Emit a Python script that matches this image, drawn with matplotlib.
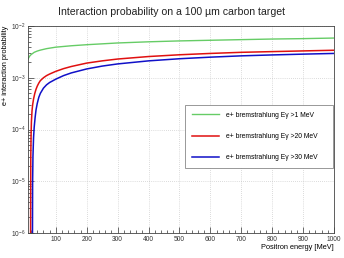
import matplotlib
matplotlib.use("Agg")
import matplotlib.pyplot as plt
from matplotlib.ticker import MultipleLocator, LogLocator, NullFormatter

plt.rcParams['font.family'] = ['Liberation Sans', 'DejaVu Sans']

# positron energy [MeV] and interaction probability
e_green = [10, 15, 20, 30, 40, 50, 70, 100, 150, 200, 300, 400, 500, 600,
           700, 800, 900, 1000]
p_green = [2.3e-3, 2.6e-3, 2.8e-3, 3.1e-3, 3.28e-3, 3.42e-3, 3.65e-3,
           3.9e-3, 4.15e-3, 4.35e-3, 4.7e-3, 4.95e-3, 5.15e-3, 5.3e-3,
           5.45e-3, 5.6e-3, 5.7e-3, 5.85e-3]

e_red = [18, 19, 20, 21, 23, 25, 28, 32, 36, 40, 45, 50, 60, 70, 80, 100,
         125, 150, 200, 250, 300, 400, 500, 600, 700, 800, 900, 1000]
p_red = [1e-7, 3e-5, 8e-5, 1.4e-4, 2.3e-4, 3.0e-4, 3.9e-4, 5.0e-4, 6.0e-4,
         6.9e-4, 7.9e-4, 8.8e-4, 1.0e-3, 1.1e-3, 1.18e-3, 1.33e-3, 1.5e-3,
         1.65e-3, 1.92e-3, 2.12e-3, 2.3e-3, 2.57e-3, 2.78e-3, 2.95e-3,
         3.1e-3, 3.2e-3, 3.3e-3, 3.4e-3]

e_blue = [24, 25, 26, 28, 30, 33, 36, 40, 45, 50, 60, 70, 80, 100, 125,
          150, 200, 250, 300, 400, 500, 600, 700, 800, 900, 1000]
p_blue = [1e-7, 1e-5, 3e-5, 7e-5, 1.1e-4, 1.7e-4, 2.4e-4, 3.2e-4, 4.2e-4,
          5.0e-4, 6.3e-4, 7.3e-4, 8.1e-4, 9.4e-4, 1.1e-3, 1.24e-3, 1.48e-3,
          1.68e-3, 1.85e-3, 2.12e-3, 2.33e-3, 2.5e-3, 2.65e-3, 2.76e-3,
          2.86e-3, 2.95e-3]

labels = ["e+ bremstrahlung E\u03b3 >1 MeV",
          "e+ bremstrahlung E\u03b3 >20 MeV",
          "e+ bremstrahlung E\u03b3 >30 MeV"]
colors = ["#66cc66", "#e01010", "#1010c8"]

W, H = 344, 258
fig = plt.figure(figsize=(W / 100, H / 100), dpi=100)
ax = fig.add_axes([28 / W, 1 - 233 / H, (334 - 28) / W, (233 - 26) / H])

ax.plot(e_green, p_green, color=colors[0], lw=1.0, label=labels[0])
ax.plot(e_red, p_red, color=colors[1], lw=1.1, label=labels[1])
ax.plot(e_blue, p_blue, color=colors[2], lw=1.1, label=labels[2])

ax.set_yscale("log")
ax.set_xlim(10, 1000)
ax.set_ylim(1e-6, 1e-2)

ax.xaxis.set_major_locator(MultipleLocator(100))
ax.xaxis.set_minor_locator(MultipleLocator(20))
ax.yaxis.set_major_locator(LogLocator(base=10))
ax.yaxis.set_minor_locator(LogLocator(base=10, subs=range(2, 10)))
ax.yaxis.set_minor_formatter(NullFormatter())

ax.tick_params(which="both", direction="in", labelsize=4.8, colors="#333333",
               width=0.5)
ax.tick_params(which="major", length=4, pad=2)
ax.tick_params(which="minor", length=2)

ax.grid(True, which="major", linestyle=(0, (1, 2)), color="#bbbbbb", lw=0.5)
for s in ax.spines.values():
    s.set_linewidth(0.6)
    s.set_color("#444444")

ax.set_xlabel("Positron energy [MeV]", fontsize=5.3, loc="right", labelpad=1)
ax.set_ylabel("e+ interaction probability", fontsize=5.3, loc="top", labelpad=1)
fig.text(0.5, 1 - 12 / H, "Interaction probability on a 100 \u00b5m carbon target",
         ha="center", va="center", fontsize=7.6, color="#222222")

leg = ax.legend(loc="upper left", mode="expand",
                bbox_to_anchor=(182 / W, 1 - 104 / H, (336 - 182) / W, 0.01),
                bbox_transform=fig.transFigure, fontsize=4.9,
                handlelength=4.0, handletextpad=0.9, labelspacing=2.1,
                borderpad=1.0, fancybox=False, framealpha=1)
leg.get_frame().set_edgecolor("#888888")
leg.get_frame().set_linewidth(0.6)

fig.savefig("out.png", dpi=100)
